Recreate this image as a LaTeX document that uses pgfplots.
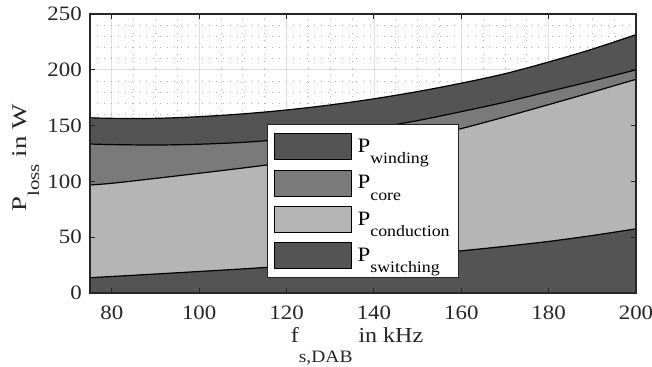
\documentclass[border=0pt]{standalone}
\usepackage{pgfplots}
\usepackage{pgfplotstable}
\pgfplotsset{compat=1.18}
\usepackage{fontspec}
\setmainfont{Liberation Serif}[FakeStretch=1.12]
\definecolor{dk}{gray}{0.33}
\definecolor{md}{gray}{0.48}
\definecolor{lt}{gray}{0.71}
\definecolor{axc}{gray}{0.15}
\pgfplotsset{
  layers/gridbelow/.define layer set={axis background,axis grid,pre main,main,axis ticks,axis lines,axis tick labels,axis descriptions,axis foreground}{/pgfplots/layers/standard},
}
\newcommand{\sub}[3][0.55em]{\raisebox{-#1}{\fontsize{#2}{#2}\selectfont #3}}

\pgfplotstableread{
x   S     C      K      W
75  13.7  96.8   133.5  157.0
80  14.8  98.3   133.0  156.5
90  17.0  102.7  132.6  156.5
100 19.3  107.3  133.3  158.0
110 21.6  112.0  135.0  160.5
120 24.2  117.0  138.0  164.0
130 27.2  123.0  142.3  168.5
140 30.5  130.0  147.8  174.0
150 34.0  138.0  154.5  180.5
160 37.8  147.3  162.5  188.0
170 41.8  157.8  171.0  196.5
180 46.2  168.8  180.5  207.0
190 51.5  180.0  190.0  218.5
200 57.5  191.5  200.0  231.5
}\data

\begin{document}
\begin{tikzpicture}
\begin{axis}[
  at={(90bp,74bp)}, anchor=south west,
  scale only axis, width=546bp, height=279bp,
  set layers=gridbelow,
  xmin=75, xmax=200, ymin=0, ymax=250,
  xtick={80,100,...,200}, ytick={0,50,...,250},
  minor x tick num=3, minor y tick num=4,
  grid=both,
  major grid style={draw=gray!25, line width=0.7bp},
  minor grid style={draw=gray!60, line width=0.8bp, dash pattern=on 1.2bp off 5.8bp},
  tick align=inside,
  major tick length=5bp, minor tick length=0pt,
  tick style={draw=axc, line width=1bp},
  axis line style={draw=axc, line width=1.4bp},
  font=\fontsize{20.5}{24}\selectfont,
  tick label style={font=\fontsize{20.5}{24}\selectfont, text=axc},
  /pgf/number format/assume math mode=true,
  xticklabel style={inner sep=0pt, yshift=-13bp},
  yticklabel style={inner sep=0pt, xshift=-8bp},
  xlabel={\fontsize{21.5}{24}\selectfont f\sub[0.93em]{17.5}{s,DAB} in kHz},
  ylabel={\scalebox{1.14}[1]{\fontsize{21}{24}\selectfont P\sub[0.6em]{16.5}{loss} in W}},
  xlabel style={at={(axis description cs:0.489,-0.179)}, anchor=base, inner sep=0pt, text=axc},
  ylabel style={at={(axis description cs:-0.116,0.484)}, anchor=base, inner sep=0pt, text=axc},
  legend style={at={(axis description cs:0.324,0.054)}, anchor=south west,
    draw=axc, line width=0.8bp, fill=white, font=\fontsize{20.5}{24}\selectfont,
    inner xsep=6.5bp, inner ysep=8.5bp, row sep=9.5bp, column sep=4bp},
  legend cell align=left,
  legend image code/.code={\draw[#1, draw=black, line width=0.8bp] (0bp,-13bp) rectangle (77bp,13bp);},
]
\addplot[fill=dk, draw=none, smooth] table[x=x,y=W]{\data} \closedcycle;
\addlegendentry{P\sub{16}{winding}}
\addplot[fill=md, draw=none, smooth] table[x=x,y=K]{\data} \closedcycle;
\addlegendentry{P\sub{16}{core}}
\addplot[fill=lt, draw=none, smooth] table[x=x,y=C]{\data} \closedcycle;
\addlegendentry{P\sub{16}{conduction}}
\addplot[fill=dk, draw=none, smooth] table[x=x,y=S]{\data} \closedcycle;
\addlegendentry{P\sub{16}{switching}}
\addplot[black, line width=1.2bp, smooth, forget plot] table[x=x,y=W]{\data};
\addplot[black, line width=1.2bp, smooth, forget plot] table[x=x,y=K]{\data};
\addplot[black, line width=1.2bp, smooth, forget plot] table[x=x,y=C]{\data};
\addplot[black, line width=1.2bp, smooth, forget plot] table[x=x,y=S]{\data};
\end{axis}
\pgfresetboundingbox
\path[use as bounding box] (0,0) rectangle (652bp,367bp);
\end{tikzpicture}
\end{document}
